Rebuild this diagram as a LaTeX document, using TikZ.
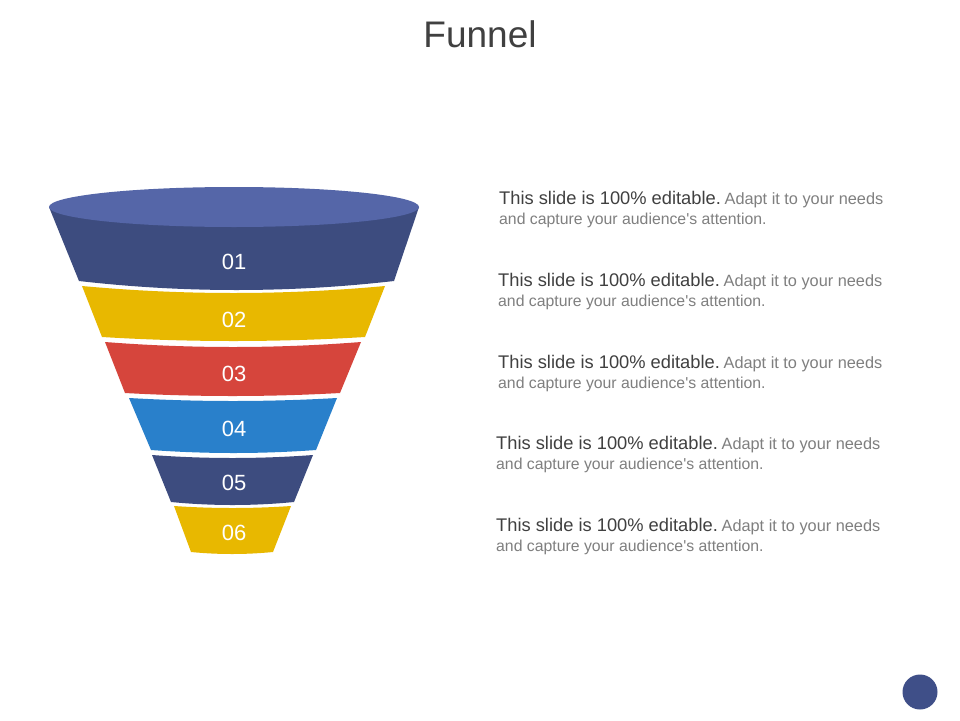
\documentclass[tikz,border=0pt]{standalone}
\usepackage{fontspec}
\setmainfont{Liberation Sans}[Ligatures=TeXOff]
\definecolor{bandnavy}{HTML}{3D4C7F}
\definecolor{topnavy}{HTML}{5566A8}
\definecolor{bandyellow}{HTML}{E8B800}
\definecolor{bandred}{HTML}{D6453C}
\definecolor{bandblue}{HTML}{2980CB}
\definecolor{dotnavy}{HTML}{3F4F88}
\definecolor{darktxt}{HTML}{404040}
\definecolor{lighttxt}{HTML}{7F7F7F}
\newcommand{\fband}[9]{\fill[#1] (#3,#2) -- (#7,#6) .. controls +({(#8-#7)/3},{4*#9/3}) and +({-(#8-#7)/3},{4*#9/3}) .. (#8,#6) -- (#4,#2) .. controls +({-(#4-#3)/3},{4*#5/3}) and +({(#4-#3)/3},{4*#5/3}) .. (#3,#2) -- cycle;}
\newcommand{\lineone}{{\fontsize{18.3}{22}\selectfont\color{darktxt}This slide is 100\% editable.} {\fontsize{16.3}{19}\selectfont\color{lighttxt}Adapt it to your needs}}
\newcommand{\linetwo}{{\fontsize{15.8}{19}\selectfont\color{lighttxt}and capture your audience's attention.}}
\tikzset{
  num/.style={text=white, font=\fontsize{22}{26}\selectfont, anchor=center, inner sep=0pt},
  txt/.style={anchor=base west, inner sep=0pt},
}
\begin{document}
\begin{tikzpicture}[x=1pt,y=-1pt]
\useasboundingbox[fill=white] (0,0) rectangle (960,720);
% title
\node[anchor=base, inner sep=0pt, text=darktxt, font=\fontsize{37}{44}\selectfont] (title) at (480,47) {Funnel};
% funnel bands
\fband{bandnavy}{207}{49}{419}{0}{281}{79}{394}{9}
\fill[topnavy] (234,207) ellipse[x radius=185, y radius=20];
\fband{bandyellow}{286}{82}{385}{7}{337}{102}{365}{4}
\fband{bandred}{342}{105}{361}{5}{393}{125}{340}{3}
\fband{bandblue}{398}{129}{337}{3}{450}{151}{316}{3}
\fband{bandnavy}{455}{152}{313}{3}{502}{171}{294}{3}
\fband{bandyellow}{506}{174}{291}{2}{552}{191}{273}{2}
% numbers
\node[num] (n1) at (234,262) {01};
\node[num] (n2) at (234,320) {02};
\node[num] (n3) at (234,374) {03};
\node[num] (n4) at (234,429) {04};
\node[num] (n5) at (234,483) {05};
\node[num] (n6) at (234,533) {06};
% text blocks
\node[txt] (t1a) at (499,204) {\lineone};
\node[txt] (t1b) at (499,224) {\linetwo};
\node[txt] (t2a) at (498,286) {\lineone};
\node[txt] (t2b) at (498,306) {\linetwo};
\node[txt] (t3a) at (498,368) {\lineone};
\node[txt] (t3b) at (498,388) {\linetwo};
\node[txt] (t4a) at (496,449) {\lineone};
\node[txt] (t4b) at (496,469) {\linetwo};
\node[txt] (t5a) at (496,531) {\lineone};
\node[txt] (t5b) at (496,551) {\linetwo};
% corner dot
\node[circle, fill=dotnavy, minimum size=35pt, inner sep=0pt] (dot) at (920,692) {};
\end{tikzpicture}
\end{document}
